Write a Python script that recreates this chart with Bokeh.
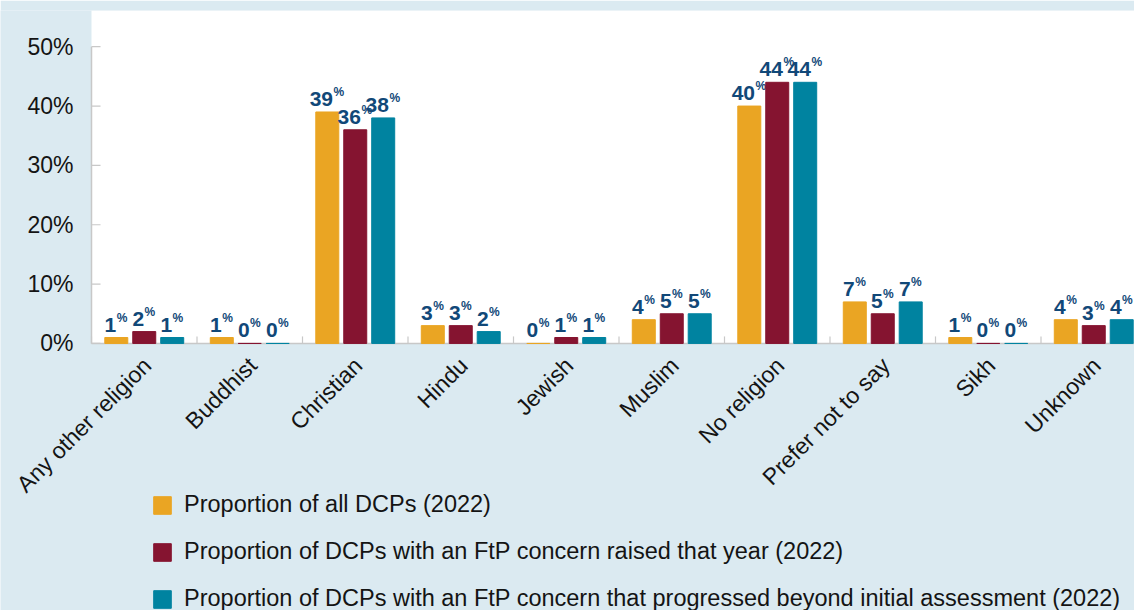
import math
from bokeh.plotting import figure
from bokeh.models import (Range1d, Legend, LegendItem, ColumnDataSource,
                          BoxAnnotation)
from bokeh.core.properties import value
from bokeh.embed import file_html
from bokeh.resources import INLINE

# ---------------- data ----------------
categories = ["Any other religion", "Buddhist", "Christian", "Hindu", "Jewish",
              "Muslim", "No religion", "Prefer not to say", "Sikh", "Unknown"]
all_dcps = [1, 1, 39, 3, 0, 4, 40, 7, 1, 4]
ftp_raised = [2, 0, 36, 3, 1, 5, 44, 5, 0, 3]
ftp_progressed = [1, 0, 38, 2, 1, 5, 44, 7, 0, 4]
series_names = [
    "Proportion of all DCPs (2022)",
    "Proportion of DCPs with an FtP concern raised that year (2022)",
    "Proportion of DCPs with an FtP concern that progressed beyond initial assessment (2022)",
]
y_ticks = [0, 10, 20, 30, 40, 50]
y_tick_labels = ["0%", "10%", "20%", "30%", "40%", "50%"]

# ---------------- style ----------------
COLORS = ["#EAA523", "#851430", "#0083A0"]
BG = "#DBEAF1"
LABEL = "#114878"
AXIS = "#C8C8C8"
TEXT = "#141414"
FONT = "Liberation Sans"
OFFSETS = [-0.265, 0.0, 0.265]
BAR_W = 0.218

W, H = 1134, 610
LEFT, TOP = 91, 10            # pixel position of the value axis / plot top
Y_TOP, Y_BOTTOM = 56.1, -45.0
CAT_PX = 105.5                # pixels per category
X_START = -LEFT / CAT_PX
X_END = (W - LEFT) / CAT_PX
PX_PER_Y = (H - TOP) / (Y_TOP - Y_BOTTOM)

p = figure(width=W, height=H, output_backend="svg", toolbar_location=None,
           x_range=Range1d(X_START, X_END), y_range=Range1d(Y_BOTTOM, Y_TOP),
           x_axis_location=None, y_axis_location=None,
           min_border_left=0, min_border_right=0, min_border_top=TOP,
           min_border_bottom=0,
           border_fill_color=BG, background_fill_color=BG,
           outline_line_color=None)
p.xgrid.visible = False
p.ygrid.visible = False

# white plotting area
p.add_layout(BoxAnnotation(left=0, bottom=0, fill_color="white", fill_alpha=1,
                           line_color=None, level="underlay"))

# value axis: line 0..50, inward ticks, labels
p.segment(x0=[0], y0=[0], x1=[0], y1=[max(y_ticks)], line_color=AXIS, line_width=1.5)
p.segment(x0=[0] * len(y_ticks), y0=y_ticks, x1=[9 / CAT_PX] * len(y_ticks),
          y1=y_ticks, line_color=AXIS, line_width=1.2)
p.text(x=[0] * len(y_ticks), y=y_ticks, text=y_tick_labels, x_offset=-18,
       text_font=value(FONT), text_font_size="23px", text_color=TEXT,
       text_align="right", text_baseline="middle")

centers = [i + 0.5 for i in range(len(categories))]
bounds = list(range(len(categories) + 1))

# category axis: baseline, small inward boundary ticks, rotated labels
p.segment(x0=[0], y0=[0], x1=[X_END], y1=[0], line_color=AXIS, line_width=1.5)
p.segment(x0=bounds, y0=[0] * len(bounds), x1=bounds,
          y1=[7 / PX_PER_Y] * len(bounds), line_color=AXIS, line_width=1.2)
p.text(x=centers, y=[0] * len(centers), text=categories, angle=math.pi / 4,
       x_offset=3, y_offset=18, text_font=value(FONT), text_font_size="23px",
       text_color=TEXT, text_align="right", text_baseline="middle")

series = [all_dcps, ftp_raised, ftp_progressed]
renderers = []
for vals, off, col in zip(series, OFFSETS, COLORS):
    xs = [c + off for c in centers]
    r = p.vbar(x=xs, top=vals, bottom=0, width=BAR_W, color=col)
    renderers.append(r)
    nums = [str(v) for v in vals]
    # centre the composite "N%" label on the bar
    xo = [(len(s) * 11.7 - 12.0) / 2 for s in nums]
    src = ColumnDataSource(dict(x=xs, y=vals, num=nums, pct=["%"] * len(vals),
                                xo=xo, xo2=[o + 0.5 for o in xo]))
    p.text(x="x", y="y", text="num", source=src, x_offset="xo", y_offset=-13,
           text_font=value(FONT), text_font_style="bold", text_font_size="21px",
           text_color=LABEL, text_align="right", text_baseline="alphabetic")
    p.text(x="x", y="y", text="pct", source=src, x_offset="xo2", y_offset=-20,
           text_font=value(FONT), text_font_style="bold", text_font_size="12px",
           text_color=LABEL, text_align="left", text_baseline="alphabetic")

legend = Legend(items=[LegendItem(label=n, renderers=[r]) for n, r in zip(series_names, renderers)],
                location=(151, -2), orientation="vertical",
                glyph_width=22, glyph_height=22, label_standoff=11, spacing=20,
                padding=0, margin=0, border_line_color=None, background_fill_alpha=0,
                label_text_font=FONT, label_text_font_size="23.5px",
                label_text_color=TEXT)
p.add_layout(legend)

open("out.html", "w").write(file_html(p, INLINE))
